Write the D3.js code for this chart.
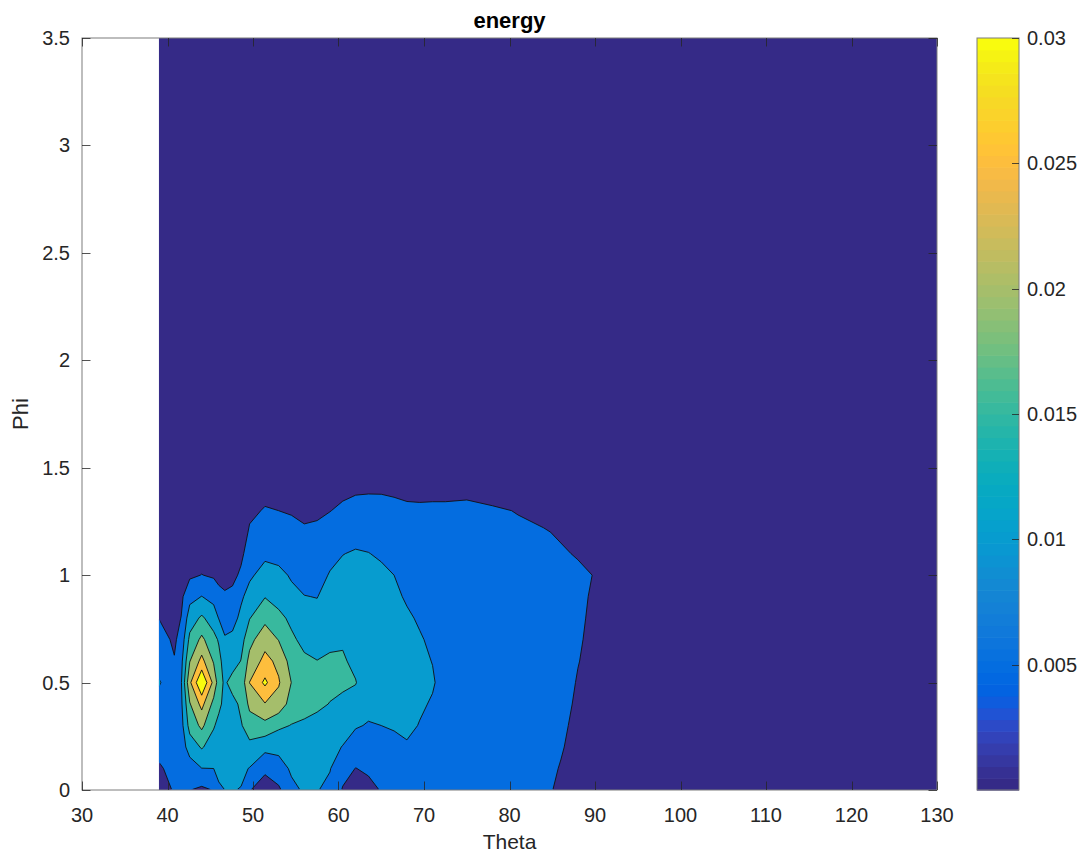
<!DOCTYPE html>
<html>
<head>
<meta charset="utf-8">
<script src="https://cdn.jsdelivr.net/npm/d3@7"></script>
<style>
  body { margin: 0; background: #fff; }
  svg { display: block; }
  text { font-family: "Liberation Sans", Arial, Helvetica, sans-serif; }
</style>
</head>
<body>
<svg id="chart" width="1083" height="855"></svg>
<script>
// Sample grid: Theta columns (deg) and Phi rows
const thetaGrid = [39, 40.8, 41.6, 42.6, 44, 45.4, 46.0, 46.7, 47.6, 48.6, 49.6, 51.4, 53.0, 54.5, 56.0, 57.5,
                   59.0, 60.5, 62.0, 63.5, 65.0, 66.5, 68.0, 69.5, 71.0, 72.5, 75, 78, 81, 84, 86, 88, 90, 92, 130];
const phiGrid = [0, 0.1, 0.2, 0.3, 0.4, 0.5, 0.6, 0.7, 0.8, 0.9, 1.0, 1.1, 1.2, 1.3, 1.4, 3.5];

// Energy, one array per Theta column, listed along phiGrid
const energyByTheta = [
  [0.0030, 0.0045, 0.0062, 0.0078, 0.0092, 0.0102, 0.0091, 0.0070, 0.0049, 0.0035, 0.0025, 0.0018, 0.0013, 0.0010, 0.0008, 0.0001], // 39
  [0.0054, 0.0062, 0.0070, 0.0077, 0.0083, 0.0086, 0.0053, 0.0042, 0.0034, 0.0028, 0.0022, 0.0016, 0.0012, 0.0009, 0.0007, 0.0001], // 40.8
  [0.0058, 0.0066, 0.0074, 0.0082, 0.0090, 0.0095, 0.0085, 0.0068, 0.0051, 0.0040, 0.0030, 0.0022, 0.0016, 0.0012, 0.0009, 0.0001], // 41.6
  [0.0051, 0.0075, 0.0122, 0.0168, 0.0196, 0.0240, 0.0198, 0.0162, 0.0125, 0.0085, 0.0042, 0.0030, 0.0022, 0.0016, 0.0012, 0.0002], // 42.6
  [0.0040, 0.0099, 0.0155, 0.0211, 0.0265, 0.0350, 0.0265, 0.0211, 0.0158, 0.0101, 0.0051, 0.0030, 0.0022, 0.0018, 0.0015, 0.0002], // 44
  [0.0052, 0.0100, 0.0125, 0.0155, 0.0185, 0.0235, 0.0195, 0.0165, 0.0125, 0.0085, 0.0044, 0.0030, 0.0022, 0.0017, 0.0013, 0.0002], // 45.4
  [0.0094, 0.0110, 0.0120, 0.0135, 0.0162, 0.0175, 0.0165, 0.0145, 0.0098, 0.0070, 0.0032, 0.0022, 0.0016, 0.0012, 0.0010, 0.0002], // 46.0
  [0.0100, 0.0108, 0.0115, 0.0125, 0.0135, 0.0140, 0.0128, 0.0105, 0.0080, 0.0058, 0.0030, 0.0020, 0.0015, 0.0011, 0.0009, 0.0002], // 46.7
  [0.0102, 0.0106, 0.0112, 0.0120, 0.0130, 0.0175, 0.0120, 0.0112, 0.0082, 0.0062, 0.0038, 0.0024, 0.0017, 0.0012, 0.0010, 0.0002], // 47.6
  [0.0098, 0.0110, 0.0125, 0.0145, 0.0162, 0.0165, 0.0152, 0.0130, 0.0112, 0.0092, 0.0058, 0.0040, 0.0028, 0.0020, 0.0015, 0.0002], // 48.6
  [0.0052, 0.0098, 0.0135, 0.0180, 0.0210, 0.0251, 0.0215, 0.0185, 0.0148, 0.0118, 0.0092, 0.0072, 0.0055, 0.0042, 0.0030, 0.0002], // 49.6
  [0.0030, 0.0058, 0.0115, 0.0185, 0.0247, 0.0310, 0.0265, 0.0231, 0.0187, 0.0148, 0.0118, 0.0090, 0.0068, 0.0053, 0.0038, 0.0003], // 51.4
  [0.0040, 0.0085, 0.0110, 0.0160, 0.0230, 0.0255, 0.0238, 0.0198, 0.0165, 0.0128, 0.0112, 0.0085, 0.0065, 0.0050, 0.0036, 0.0003], // 53.0
  [0.0092, 0.0105, 0.0125, 0.0148, 0.0180, 0.0199, 0.0180, 0.0160, 0.0138, 0.0112, 0.0095, 0.0078, 0.0061, 0.0047, 0.0034, 0.0003], // 54.5
  [0.0104, 0.0112, 0.0125, 0.0142, 0.0168, 0.0175, 0.0160, 0.0135, 0.0115, 0.0101, 0.0086, 0.0070, 0.0055, 0.0042, 0.0030, 0.0003], // 56.0
  [0.0102, 0.0108, 0.0118, 0.0130, 0.0162, 0.0172, 0.0151, 0.0128, 0.0112, 0.0099, 0.0085, 0.0070, 0.0057, 0.0044, 0.0032, 0.0003], // 57.5
  [0.0090, 0.0102, 0.0115, 0.0130, 0.0148, 0.0165, 0.0158, 0.0138, 0.0125, 0.0115, 0.0103, 0.0088, 0.0068, 0.0049, 0.0036, 0.0003], // 59.0
  [0.0046, 0.0068, 0.0098, 0.0122, 0.0140, 0.0158, 0.0155, 0.0145, 0.0132, 0.0122, 0.0112, 0.0099, 0.0078, 0.0058, 0.0040, 0.0003], // 60.5
  [0.0030, 0.0049, 0.0078, 0.0104, 0.0132, 0.0152, 0.0140, 0.0135, 0.0128, 0.0122, 0.0115, 0.0104, 0.0085, 0.0063, 0.0045, 0.0003], // 62.0
  [0.0035, 0.0058, 0.0080, 0.0097, 0.0112, 0.0122, 0.0125, 0.0124, 0.0122, 0.0118, 0.0112, 0.0101, 0.0085, 0.0064, 0.0046, 0.0003], // 63.5
  [0.0053, 0.0068, 0.0082, 0.0100, 0.0110, 0.0118, 0.0121, 0.0121, 0.0119, 0.0115, 0.0108, 0.0095, 0.0080, 0.0063, 0.0046, 0.0003], // 65.0
  [0.0060, 0.0072, 0.0088, 0.0104, 0.0112, 0.0116, 0.0118, 0.0117, 0.0113, 0.0107, 0.0100, 0.0088, 0.0075, 0.0060, 0.0044, 0.0003], // 66.5
  [0.0062, 0.0075, 0.0095, 0.0110, 0.0113, 0.0115, 0.0114, 0.0111, 0.0105, 0.0096, 0.0088, 0.0080, 0.0069, 0.0056, 0.0042, 0.0003], // 68.0
  [0.0064, 0.0076, 0.0088, 0.0098, 0.0106, 0.0110, 0.0108, 0.0103, 0.0096, 0.0090, 0.0085, 0.0078, 0.0068, 0.0055, 0.0042, 0.0003], // 69.5
  [0.0065, 0.0075, 0.0084, 0.0091, 0.0096, 0.0104, 0.0099, 0.0094, 0.0090, 0.0086, 0.0082, 0.0076, 0.0067, 0.0055, 0.0043, 0.0003], // 71.0
  [0.0066, 0.0072, 0.0078, 0.0081, 0.0083, 0.0084, 0.0083, 0.0082, 0.0080, 0.0078, 0.0075, 0.0071, 0.0064, 0.0055, 0.0043, 0.0003], // 72.5
  [0.0066, 0.0070, 0.0074, 0.0076, 0.0077, 0.0078, 0.0078, 0.0077, 0.0075, 0.0073, 0.0070, 0.0067, 0.0062, 0.0056, 0.0044, 0.0003], // 75
  [0.0064, 0.0068, 0.0071, 0.0073, 0.0074, 0.0075, 0.0075, 0.0074, 0.0072, 0.0070, 0.0067, 0.0063, 0.0058, 0.0053, 0.0040, 0.0003], // 78
  [0.0062, 0.0065, 0.0068, 0.0070, 0.0071, 0.0071, 0.0071, 0.0070, 0.0068, 0.0066, 0.0063, 0.0059, 0.0054, 0.0049, 0.0035, 0.0003], // 81
  [0.0058, 0.0061, 0.0063, 0.0065, 0.0066, 0.0066, 0.0066, 0.0065, 0.0063, 0.0060, 0.0057, 0.0054, 0.0052, 0.0042, 0.0030, 0.0003], // 84
  [0.0043, 0.0048, 0.0053, 0.0057, 0.0060, 0.0062, 0.0063, 0.0063, 0.0062, 0.0060, 0.0057, 0.0053, 0.0047, 0.0038, 0.0028, 0.0003], // 86
  [0.0030, 0.0034, 0.0038, 0.0041, 0.0045, 0.0048, 0.0051, 0.0053, 0.0055, 0.0056, 0.0055, 0.0048, 0.0042, 0.0034, 0.0025, 0.0003], // 88
  [0.0020, 0.0024, 0.0028, 0.0032, 0.0036, 0.0039, 0.0041, 0.0043, 0.0044, 0.0046, 0.0049, 0.0040, 0.0032, 0.0026, 0.0020, 0.0003], // 90
  [0.0008, 0.0009, 0.0010, 0.0011, 0.0012, 0.0013, 0.0014, 0.0014, 0.0015, 0.0015, 0.0015, 0.0013, 0.0011, 0.0009, 0.0007, 0.0002], // 92
  [0.0002, 0.0002, 0.0002, 0.0002, 0.0002, 0.0002, 0.0002, 0.0002, 0.0002, 0.0002, 0.0002, 0.0002, 0.0002, 0.0002, 0.0002, 0.0001]  // 130
];

const contourLevels = [0, 0.005, 0.01, 0.015, 0.02, 0.025, 0.03];
const thetaTicks = [30, 40, 50, 60, 70, 80, 90, 100, 110, 120, 130];
const phiTicks = [0, 0.5, 1, 1.5, 2, 2.5, 3, 3.5];
const colorbarTicks = [0.005, 0.01, 0.015, 0.02, 0.025, 0.03];
const colorLimits = [0, 0.03];

// parula, 64 entries
const parula = [
  [0.2081,0.1663,0.5292],[0.2116,0.1898,0.5777],[0.2123,0.2138,0.6270],[0.2081,0.2386,0.6771],
  [0.1959,0.2645,0.7279],[0.1707,0.2919,0.7792],[0.1253,0.3242,0.8303],[0.0591,0.3598,0.8683],
  [0.0117,0.3875,0.8820],[0.0060,0.4086,0.8828],[0.0165,0.4266,0.8786],[0.0329,0.4430,0.8720],
  [0.0498,0.4586,0.8641],[0.0629,0.4737,0.8554],[0.0723,0.4887,0.8467],[0.0779,0.5040,0.8384],
  [0.0793,0.5200,0.8312],[0.0750,0.5375,0.8263],[0.0641,0.5570,0.8240],[0.0488,0.5772,0.8228],
  [0.0343,0.5966,0.8199],[0.0265,0.6137,0.8135],[0.0239,0.6287,0.8038],[0.0231,0.6418,0.7913],
  [0.0228,0.6535,0.7768],[0.0267,0.6642,0.7607],[0.0384,0.6743,0.7436],[0.0590,0.6838,0.7254],
  [0.0843,0.6928,0.7062],[0.1133,0.7015,0.6859],[0.1453,0.7098,0.6646],[0.1801,0.7177,0.6424],
  [0.2178,0.7250,0.6193],[0.2586,0.7317,0.5954],[0.3022,0.7376,0.5712],[0.3482,0.7424,0.5473],
  [0.3953,0.7459,0.5244],[0.4420,0.7481,0.5033],[0.4871,0.7491,0.4840],[0.5300,0.7491,0.4661],
  [0.5709,0.7485,0.4494],[0.6099,0.7473,0.4337],[0.6473,0.7456,0.4188],[0.6834,0.7435,0.4044],
  [0.7184,0.7411,0.3905],[0.7525,0.7384,0.3768],[0.7858,0.7356,0.3633],[0.8185,0.7327,0.3498],
  [0.8507,0.7299,0.3360],[0.8824,0.7274,0.3217],[0.9139,0.7258,0.3063],[0.9450,0.7261,0.2886],
  [0.9739,0.7314,0.2666],[0.9938,0.7455,0.2403],[0.9990,0.7653,0.2164],[0.9955,0.7861,0.1967],
  [0.9880,0.8066,0.1794],[0.9789,0.8271,0.1633],[0.9697,0.8481,0.1475],[0.9626,0.8705,0.1309],
  [0.9589,0.8949,0.1132],[0.9598,0.9218,0.0948],[0.9661,0.9514,0.0755],[0.9763,0.9831,0.0538]
];

const textColor = "#262626";
const axisColor = "#7d7d7d";
const plot = { left: 82, right: 937, top: 38, bottom: 790 };
const cbar = { left: 977, right: 1019 };

const svg = d3.select("#chart");
const x = d3.scaleLinear().domain([30, 130]).range([plot.left, plot.right]);
const y = d3.scaleLinear().domain([0, 3.5]).range([plot.bottom, plot.top]);

function parulaHex(i) {
  const c = parula[Math.max(0, Math.min(parula.length - 1, i))];
  return d3.rgb(c[0] * 255, c[1] * 255, c[2] * 255).formatHex();
}
// MATLAB-style colour lookup: fix((v - cmin) / (cmax - cmin) * m)
function levelColor(v) {
  const m = parula.length;
  return parulaHex(Math.floor((v - colorLimits[0]) / (colorLimits[1] - colorLimits[0]) * m));
}

// Flatten the grid row-major for d3.contours
const nx = thetaGrid.length, ny = phiGrid.length;
const values = new Array(nx * ny);
for (let j = 0; j < ny; j++) for (let i = 0; i < nx; i++) values[i + j * nx] = energyByTheta[i][j];

// Grid index -> data coordinate (samples sit at index + 0.5 in contour space)
const thetaAt = d3.scaleLinear().domain(d3.range(nx)).range(thetaGrid).clamp(true);
const phiAt = d3.scaleLinear().domain(d3.range(ny)).range(phiGrid).clamp(true);
const toScreen = d3.geoTransform({
  point(px, py) { this.stream.point(x(thetaAt(px - 0.5)), y(phiAt(py - 0.5))); }
});
const path = d3.geoPath(toScreen);

const contours = d3.contours().size([nx, ny]).thresholds(contourLevels)(values);

const defs = svg.append("defs");
defs.append("clipPath").attr("id", "inner")
  .append("rect")
  .attr("x", x(thetaGrid[0]) + 1.2).attr("y", plot.top + 1)
  .attr("width", plot.right - x(thetaGrid[0]) - 2.2).attr("height", plot.bottom - plot.top - 2);

// Filled bands
svg.append("g")
  .selectAll("path")
  .data(contours)
  .join("path")
  .attr("d", path)
  .attr("fill", d => levelColor(d.value))
  .attr("fill-rule", "evenodd");

// Contour lines
svg.append("g")
  .attr("clip-path", "url(#inner)")
  .selectAll("path")
  .data(contours.filter(d => d.value > 0))
  .join("path")
  .attr("d", path)
  .attr("fill", "none")
  .attr("stroke", "#111")
  .attr("stroke-width", 0.9)
  .attr("stroke-linejoin", "round");

// Axes box and ticks
const axes = svg.append("g");
axes.append("rect")
  .attr("x", plot.left).attr("y", plot.top)
  .attr("width", plot.right - plot.left).attr("height", plot.bottom - plot.top)
  .attr("fill", "none").attr("stroke", axisColor).attr("stroke-width", 1);

const tickLen = 8.5;
thetaTicks.forEach(t => {
  const px = Math.round(x(t)) + 0.5;
  axes.append("line").attr("x1", px).attr("x2", px).attr("y1", plot.bottom).attr("y2", plot.bottom - tickLen)
    .attr("stroke", textColor).attr("stroke-width", 0.8);
  axes.append("line").attr("x1", px).attr("x2", px).attr("y1", plot.top).attr("y2", plot.top + tickLen)
    .attr("stroke", textColor).attr("stroke-width", 0.8);
  axes.append("text").attr("x", x(t)).attr("y", 822)
    .attr("text-anchor", "middle").attr("font-size", 20).attr("fill", textColor).text(t);
});
phiTicks.forEach(t => {
  const py = Math.round(y(t)) + 0.5;
  axes.append("line").attr("x1", plot.left).attr("x2", plot.left + tickLen).attr("y1", py).attr("y2", py)
    .attr("stroke", textColor).attr("stroke-width", 0.8);
  axes.append("line").attr("x1", plot.right).attr("x2", plot.right - tickLen).attr("y1", py).attr("y2", py)
    .attr("stroke", textColor).attr("stroke-width", 0.8);
  axes.append("text").attr("x", 70).attr("y", y(t) + 7)
    .attr("text-anchor", "end").attr("font-size", 20).attr("fill", textColor).text(t);
});

// Titles
svg.append("text").attr("x", (plot.left + plot.right) / 2).attr("y", 28)
  .attr("text-anchor", "middle").attr("font-size", 22).attr("font-weight", "bold").attr("fill", "#000")
  .text("energy");
svg.append("text").attr("x", (plot.left + plot.right) / 2).attr("y", 849)
  .attr("text-anchor", "middle").attr("font-size", 21).attr("fill", textColor).text("Theta");
svg.append("text").attr("transform", `translate(28,${(plot.top + plot.bottom) / 2}) rotate(-90)`)
  .attr("text-anchor", "middle").attr("font-size", 22).attr("fill", textColor).text("Phi");

// Colorbar
const cy = d3.scaleLinear().domain(colorLimits).range([plot.bottom, plot.top]);
const bandH = (plot.bottom - plot.top) / parula.length;
const cb = svg.append("g");
cb.selectAll("rect.band")
  .data(d3.range(parula.length))
  .join("rect")
  .attr("class", "band")
  .attr("x", cbar.left).attr("width", cbar.right - cbar.left)
  .attr("y", i => plot.bottom - (i + 1) * bandH).attr("height", bandH + 0.6)
  .attr("fill", i => parulaHex(i));
cb.append("rect")
  .attr("x", cbar.left).attr("y", plot.top)
  .attr("width", cbar.right - cbar.left).attr("height", plot.bottom - plot.top)
  .attr("fill", "none").attr("stroke", axisColor).attr("stroke-width", 1);
colorbarTicks.forEach(t => {
  const py = Math.round(cy(t)) + 0.5;
  cb.append("line").attr("x1", cbar.right).attr("x2", cbar.right - 7).attr("y1", py).attr("y2", py)
    .attr("stroke", textColor).attr("stroke-width", 0.8);
  cb.append("text").attr("x", 1027).attr("y", cy(t) + 7)
    .attr("font-size", 20).attr("fill", textColor).text(t);
});
</script>
